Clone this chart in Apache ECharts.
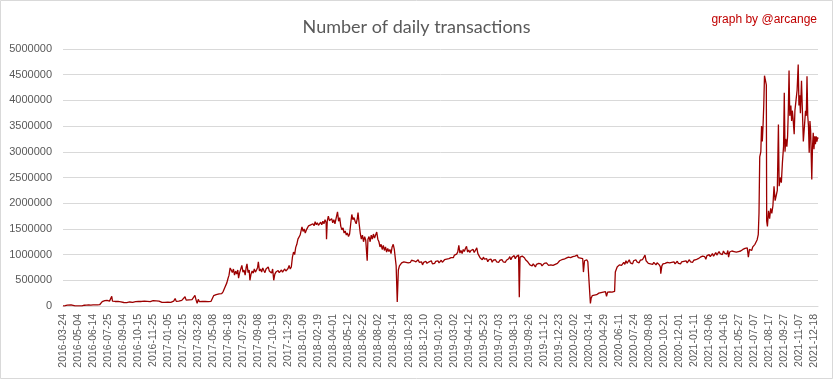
<!DOCTYPE html>
<html>
<head>
<meta charset="utf-8">
<script src="https://cdn.jsdelivr.net/npm/echarts@6/dist/echarts.min.js"></script>
<style>
html,body{margin:0;padding:0;background:#fff;}
#chart{width:833px;height:379px;}
</style>
</head>
<body>
<div id="chart"></div>
<script>
// Tick labels shown on the category axis (every 41st category)
const tickLabels = [
  '2016-03-24','2016-05-04','2016-06-14','2016-07-25','2016-09-04','2016-10-15','2016-11-25',
  '2017-01-05','2017-02-15','2017-03-28','2017-05-08','2017-06-18','2017-07-29','2017-09-08','2017-10-19','2017-11-29',
  '2018-01-09','2018-02-19','2018-04-01','2018-05-12','2018-06-22','2018-08-02','2018-09-14','2018-10-28','2018-12-10',
  '2019-01-20','2019-03-02','2019-04-12','2019-05-23','2019-07-03','2019-08-13','2019-09-26','2019-11-12','2019-12-23',
  '2020-02-02','2020-03-14','2020-04-29','2020-06-11','2020-07-24','2020-09-08','2020-10-21','2020-12-01',
  '2021-01-11','2021-03-06','2021-04-16','2021-05-27','2021-07-07','2021-08-17','2021-09-27','2021-11-07','2021-12-18'
];
const daysPerTick = 41;
const daysAfterLastTick = 10;

// Daily transactions: [day index, thousands of transactions]
const txSamples = [
[0,3],[6,5],[12,18],[17,25],[22,20],[27,6],[33,2],[40,3],[46,4],[52,3],[58,15],[64,18],[70,20],[76,18],[82,22],[88,20],[94,22],[100,25],[104,45],[107,85],[110,95],[114,105],[117,90],[120,110],[124,100],[127,95],[130,115],[133,190],[135,95],[138,100],[142,88],[146,95],[150,90],[154,92],[158,80],[162,72],[166,68],[170,75],[174,65],[178,70],[182,78],[186,66],[190,72],[194,70],[198,85],[202,95],[206,90],[210,110],[214,88],[218,100],[222,95],[226,115],[230,90],[234,100],[238,85],[242,98],[246,105],[250,92],[254,100],[258,110],[262,95],[266,80],[270,70],[274,65],[278,72],[282,68],[286,75],[290,80],[294,70],[298,85],[302,95],[306,145],[309,90],[312,100],[316,95],[320,120],[324,110],[328,140],[333,180],[336,115],[340,130],[344,120],[348,150],[352,125],[356,140],[360,205],[363,120],[366,50],[369,130],[372,85],[376,80],[380,90],[384,82],[388,88],[392,80],[396,85],[400,90],[404,92],[408,95],[411,200],[414,230],[418,220],[422,245],[426,235],[430,255],[433,240],[437,280],[441,350],[444,380],[447,450],[450,530],[453,600],[456,740],
[459,700],[462,650],[465,720],[468,600],[471,680],[474,620],[477,700],[479,540],[482,650],[485,620],[488,790],[491,660],[494,700],[497,600],[500,760],[502,820],[505,650],[508,700],[510,500],[513,620],[516,680],[519,640],[522,720],[525,660],[528,700],[531,750],[533,860],[536,680],[539,720],[542,660],[545,740],[548,690],[551,650],[554,720],[557,700],[560,760],[563,680],[566,700],[569,640],[572,720],[575,500],[578,620],[581,660],[584,640],[587,690],[590,650],[593,670],[596,700],[599,660],[602,690],[605,720],[608,680],[611,700],[614,730],[617,790],[620,720],[623,760],[626,950],[629,1050],[632,1000],[635,1140],[638,1200],[641,1300],[644,1270],[647,1380],[650,1350],[652,1540],[655,1450],[658,1500],[661,1420],[664,1480],[667,1520],[670,1560],[673,1530],[676,1580],[679,1550],[682,1600],[685,1560],[688,1640],[691,1580],[694,1620],[697,1570],[700,1600],[703,1630],[706,1580],[709,1650],[712,1600],[715,1680],[718,1620],[719,1300],[721,1650],[724,1750],[727,1660],
[730,1640],[733,1700],[736,1620],[739,1680],[742,1600],[745,1700],[749,1830],[752,1650],[755,1720],[758,1550],[761,1480],[764,1520],[767,1420],[770,1460],[773,1380],[776,1420],[779,1350],[782,1400],[785,1600],[788,1780],[791,1680],[794,1720],[797,1650],[800,1600],[803,1700],[805,1820],[808,1600],[811,1420],[814,1300],[817,1380],[820,1250],[823,1350],[826,1280],[830,880],[832,1300],[835,1350],[838,1250],[841,1380],[844,1300],[847,1400],[850,1320],[853,1380],[856,1440],[859,1300],[862,1250],[865,1150],[868,1200],[871,1100],[874,1180],[877,1080],[880,1150],[883,1050],[886,1120],[889,1060],[892,1100],[895,1020],[898,1150],[901,1200],[904,1100],[907,1130],[909,780],[912,80],[915,700],[918,780],[921,800],[924,840],[927,820],[930,860],[933,830],[936,850],[939,880],[942,840],[945,870],[948,850],[951,890],[954,860],[957,880],[960,900],[963,860],[966,870],[969,900],[972,850],
[975,830],[978,860],[981,800],[984,850],[987,820],[990,870],[993,830],[996,800],[999,860],[1002,840],[1005,880],[1008,820],[1011,850],[1014,830],[1017,870],[1020,850],[1023,880],[1026,840],[1029,860],[1032,890],[1035,850],[1038,870],[1041,900],[1044,880],[1047,910],[1050,890],[1053,920],[1056,900],[1059,940],[1062,960],[1065,940],[1068,990],[1071,970],[1074,1010],[1077,1050],[1080,1180],[1083,1030],[1086,1080],[1089,1020],[1092,1100],[1095,1060],[1098,1120],[1101,1160],[1104,1050],[1107,1090],[1110,1040],[1113,1080],[1116,1060],[1119,1100],[1122,1040],[1125,1080],[1129,1130],[1132,1020],[1135,980],[1138,940],[1141,960],[1144,900],[1147,950],[1150,910],[1153,880],[1156,920],[1159,860],[1162,900],[1165,870],[1168,910],[1171,850],[1174,890],[1177,870],[1180,900],[1183,860],[1186,880],[1189,850],[1192,890],[1195,870],[1198,900],[1201,860],[1204,880],[1207,850],[1210,890],[1213,870],[1216,920],[1219,960],[1222,900],[1225,950],[1228,930],[1231,980],[1234,920],[1237,960],[1240,940],[1243,990],[1245,170],[1247,950],[1250,930],[1253,970],[1256,980],[1259,940],[1262,900],[1265,880],[1268,860],[1271,840],[1274,800],[1277,830],[1280,780],[1283,820],[1286,790],[1289,760],[1292,810],[1295,790],[1298,830],[1301,800],[1304,820],[1307,780],[1310,810],[1313,830],[1316,800],[1319,840],[1322,810],[1325,790],[1328,820],[1331,800],[1334,830],[1337,790],[1340,820],[1343,810],[1346,800],[1349,830],[1352,860],[1355,880],[1358,850],[1361,900],[1364,870],[1367,910],[1370,890],[1373,930],[1376,900],[1379,950],[1382,920],
[1385,940],[1388,910],[1391,960],[1394,930],[1397,970],[1400,950],[1403,990],[1406,940],[1409,960],[1412,930],[1415,950],[1418,920],[1420,660],[1423,880],[1426,850],[1429,900],[1432,860],[1435,870],[1437,850],[1439,50],[1441,150],[1444,200],[1447,220],[1450,210],[1453,230],[1456,220],[1459,240],[1462,250],[1465,240],[1468,260],[1471,255],[1474,270],[1477,265],[1480,280],[1483,190],[1486,270],[1489,280],[1492,275],[1495,285],[1498,270],[1501,280],[1505,285],[1507,660],[1509,700],[1512,760],[1515,730],[1518,800],[1521,770],[1524,790],[1527,820],[1530,850],[1533,810],[1536,880],[1539,830],[1542,860],[1545,900],[1548,840],[1551,870],[1554,820],[1557,880],[1560,850],[1563,900],[1566,860],[1569,880],[1572,840],[1575,890],[1578,860],[1581,900],[1584,880],[1588,990],[1591,880],[1594,850],[1597,830],[1600,860],[1603,820],[1606,840],[1609,810],[1612,850],[1615,830],[1618,800],[1621,840],[1624,820],[1627,800],[1630,760],[1631,630],[1634,780],[1637,820],[1640,790],[1643,830],[1646,810],[1649,850],[1652,820],[1655,840],[1658,810],[1661,850],[1664,830],[1667,860],[1670,820],[1673,840],[1676,870],[1679,830],[1682,850],[1685,820],[1688,860],[1691,840],[1694,870],[1697,850],[1700,880],[1703,840],[1706,870],[1709,900],[1712,860],[1715,880],[1718,850],[1721,890],[1724,870],[1727,900],[1730,880],[1733,920],[1736,900],[1739,950],[1742,920],[1745,970],[1748,940],[1751,960],[1754,910],[1757,980],[1760,950],[1763,1000],[1766,960],[1769,990],[1772,1020],[1775,970],[1778,1000],[1781,1040],[1784,990],[1787,1020],[1790,1060],
[1793,1020],[1796,1050],[1799,1000],[1802,1070],[1805,1030],[1808,1060],[1811,1010],[1814,1080],[1816,950],[1819,1050],[1822,1020],[1825,1070],[1828,1040],[1831,1060],[1834,1030],[1837,1050],[1840,1040],[1843,1060],[1846,1030],[1849,1070],[1852,1050],[1855,1100],[1858,1080],[1861,1120],[1864,1090],[1867,1130],[1870,950],[1873,1100],[1876,1120],[1879,1080],[1882,1150],[1885,1120],[1888,1200],[1891,1180],[1894,1290],[1897,1390],[1899,1800],[1901,2900],[1904,3000],[1906,3500],[1908,3200],[1910,3500],[1912,3900],[1914,4480],[1916,4490],[1917,4480],[1919,4300],[1920,1650],[1922,1550],[1925,1850],[1928,1700],[1931,1900],[1934,1800],[1937,1950],[1940,2330],[1943,2050],[1946,2150],[1949,2250],[1952,3530],[1954,2330],[1957,2500],[1960,2400],[1963,2800],[1966,3100],[1968,4150],[1970,3000],[1972,3250],[1975,3100],[1977,3300],[1979,3800],[1981,4580],[1983,3700],[1986,3900],[1988,3600],[1990,3800],[1992,3650],[1995,3340],[1997,3800],[2000,4000],[2003,4200],[2006,4700],[2008,3900],[2010,4100],[2012,3750],[2015,4380],[2017,3900],[2020,3200],[2023,3500],[2026,3800],[2028,3700],[2030,4470],[2032,3700],[2034,3500],[2036,2980],[2038,3600],[2040,3400],[2043,2460],[2045,3100],[2047,3370],[2049,3050],[2051,3300],[2053,3150],[2055,3300],[2057,3200],[2059,3280],[2060,3250]
];

// Build the daily category list from the tick labels
const categories = [];
tickLabels.forEach((d, k) => {
  const n = k < tickLabels.length - 1 ? daysPerTick : daysAfterLastTick + 1;
  const t0 = Date.parse(d + 'T00:00:00Z');
  for (let j = 0; j < n; j++) {
    categories.push(new Date(t0 + j * 86400000).toISOString().slice(0, 10));
  }
});

const seriesData = txSamples.map(([i, v]) => [i, v * 1000]);

const chart = echarts.init(document.getElementById('chart'), null, {renderer: 'canvas'});
chart.setOption({
  animation: false,
  backgroundColor: '#ffffff',
  title: [
    {
      text: 'Number of daily transactions',
      left: 'center',
      top: 13,
      textStyle: {fontFamily: 'Lato', fontSize: 18, fontWeight: 'normal', color: '#595959'}
    },
    {
      text: 'graph by @arcange',
      right: 11,
      top: 9,
      textStyle: {fontFamily: 'Liberation Sans', fontSize: 12, fontWeight: 'normal', color: '#c00000'}
    }
  ],
  graphic: [{
    type: 'rect',
    shape: {x: 0.5, y: 0.5, width: 832, height: 378},
    style: {fill: 'none', stroke: '#d9d9d9', lineWidth: 1},
    silent: true
  }],
  grid: {left: 63, right: 15, top: 49, bottom: 73, containLabel: false},
  xAxis: {
    type: 'category',
    data: categories,
    boundaryGap: false,
    axisLine: {show: true, lineStyle: {color: '#d9d9d9', width: 1}},
    axisTick: {show: false},
    axisLabel: {
      interval: daysPerTick - 1,
      rotate: 90,
      margin: 8,
      fontFamily: 'Liberation Sans',
      fontSize: 10.5,
      color: '#595959'
    },
    splitLine: {show: false}
  },
  yAxis: {
    type: 'value',
    min: 0,
    max: 5000000,
    interval: 500000,
    axisLine: {show: false},
    axisTick: {show: false},
    axisLabel: {
      margin: 11,
      fontFamily: 'Liberation Sans',
      fontSize: 11,
      color: '#595959',
      formatter: (v) => String(v)
    },
    splitLine: {lineStyle: {color: '#d9d9d9', width: 1}}
  },
  series: [{
    type: 'line',
    data: seriesData,
    showSymbol: false,
    symbol: 'none',
    sampling: null,
    lineStyle: {color: '#9c0000', width: 1.3},
    itemStyle: {color: '#9c0000'}
  }]
});
</script>
</body>
</html>
